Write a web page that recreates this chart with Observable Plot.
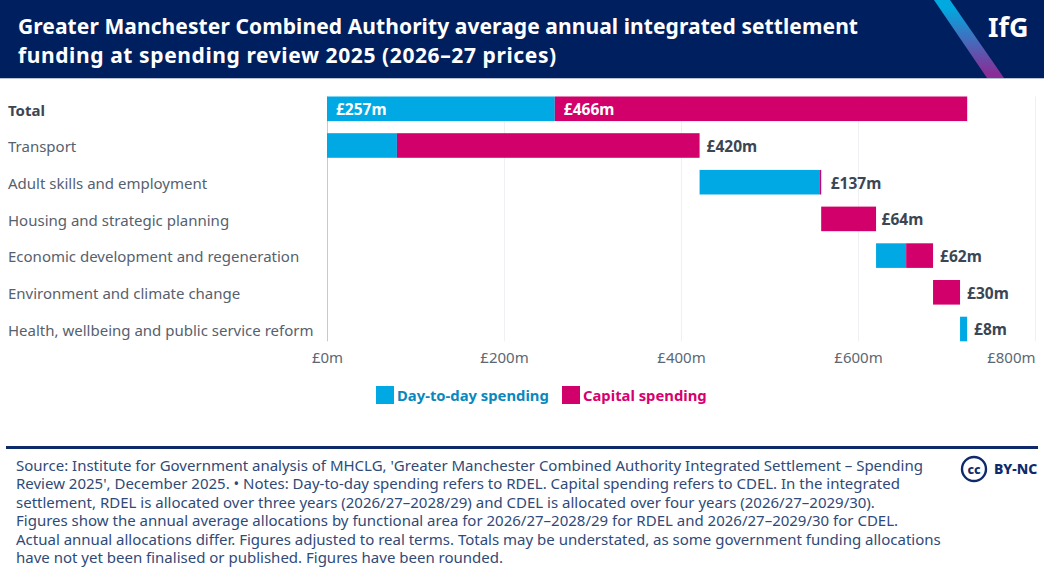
<!DOCTYPE html>
<html><head><meta charset="utf-8">
<script src="https://cdn.jsdelivr.net/npm/d3@7"></script>
<script src="https://cdn.jsdelivr.net/npm/@observablehq/plot@0.6"></script>
<style>
html,body{margin:0;padding:0;background:#fff;width:1044px;height:574px;overflow:hidden;font-family:"Noto Sans",sans-serif}
#head{position:relative;height:78px;background:#001f5f;border-bottom:1px solid #b9c2d4;box-sizing:content-box;overflow:hidden}
#head .t{position:absolute;left:18px;top:12px;color:#fff;font-weight:700;font-size:21px;line-height:29px;white-space:nowrap}
#head svg{position:absolute;left:0;top:0}
#head .l{position:absolute;left:988px;top:9px;color:#fff;font-weight:700;font-size:27px;line-height:36px}
#chart{position:absolute;left:0;top:78px}
#chart svg{display:block}
#legend{position:absolute;left:376px;top:386px;height:18px;font-size:14.8px;font-weight:700;line-height:19px;white-space:nowrap}
#legend i{position:absolute;top:0;width:18px;height:18px}
#legend span{position:absolute;top:0}
#rule{position:absolute;left:6px;top:446px;width:1032px;height:2.5px;background:#0f2a6b}
#cap{position:absolute;left:16px;top:456px;font-size:15px;line-height:18.4px;color:#2f4a78;white-space:nowrap}
#cc{position:absolute;left:959px;top:455px}
</style></head><body>
<div id="head">
<svg width="1044" height="78"><defs><linearGradient id="g" x1="0" y1="0" x2="0" y2="1"><stop offset="0.1" stop-color="#00a9e0"/><stop offset="0.95" stop-color="#8a2d96"/></linearGradient></defs><polygon points="934,0 950,0 1004,78 987,78" fill="url(#g)"/></svg>
<div class="t"><span style="letter-spacing:.08px">Greater Manchester Combined Authority average annual integrated settlement</span><br><span style="letter-spacing:.6px">funding at spending review 2025 (2026–27 prices)</span></div>
<div class="l">IfG</div>
</div>
<div id="chart"></div>
<div id="legend"><i style="left:0;background:#00a9e3"></i><span style="left:21px;color:#0a88bd">Day-to-day spending</span><i style="left:186px;background:#d1006b"></i><span style="left:207px;color:#d6006f">Capital spending</span></div>
<div id="rule"></div>
<div id="cap">Source: Institute for Government analysis of MHCLG, 'Greater Manchester Combined Authority Integrated Settlement – Spending<br>Review 2025', December 2025. • Notes: Day-to-day spending refers to RDEL. Capital spending refers to CDEL. In the integrated<br>settlement, RDEL is allocated over three years (2026/27–2028/29) and CDEL is allocated over four years (2026/27–2029/30).<br>Figures show the annual average allocations by functional area for 2026/27–2028/29 for RDEL and 2026/27–2029/30 for CDEL.<br>Actual annual allocations differ. Figures adjusted to real terms. Totals may be understated, as some government funding allocations<br>have not yet been finalised or published. Figures have been rounded.</div>
<svg id="cc" width="85" height="28"><circle cx="15" cy="14" r="12" fill="none" stroke="#0f2a6b" stroke-width="2.4"/><text x="15" y="18.5" text-anchor="middle" font-family="Noto Sans" font-weight="800" font-size="12.5" fill="#0f2a6b">cc</text><text x="35" y="19" font-family="Noto Sans" font-weight="800" font-size="14" fill="#0f2a6b">BY-NC</text></svg>
<script>
const categories = ["Total","Transport","Adult skills and employment","Housing and strategic planning","Economic development and regeneration","Environment and climate change","Health, wellbeing and public service reform"];
const dayToDay = [257.4,79,136,0,34,0,8];
const capital = [466,342,1.4,62,30.4,30.5,0];
const labels = ["","£420m","£137m","£64m","£62m","£30m","£8m"];
const totalLabels = ["£257m","£466m"];
const xTicks = [0,200,400,600,800];
const fmt = d => `£${d}m`;

const rows = [];
let cum = 0;
categories.forEach((c,i)=>{
  const start = i===0 ? 0 : cum;
  const mid = start + dayToDay[i], end = mid + capital[i];
  rows.push({c,start,mid,end,label:labels[i]});
  if(i>0) cum = end;
});
const dark = "#3b4654", axisC = "#5c6773";
const lab = {x:"end",y:"c",text:"label",textAnchor:"start",fontSize:15.5,fontWeight:700,fill:dark,dy:1};
const plot = Plot.plot({
  width:1044, height:300,
  marginLeft:327, marginRight:9, marginTop:18.5, marginBottom:36.7,
  style:{fontFamily:"Noto Sans",background:"transparent"},
  x:{domain:[0,800],axis:null},
  y:{domain:categories,axis:null,paddingInner:0.33,paddingOuter:0,round:false},
  marks:[
    Plot.ruleX(xTicks.slice(1),{x:d=>d,stroke:"#eef0f3",strokeWidth:1}),
    Plot.ruleX([0],{stroke:"#c6cad0",strokeWidth:1}),
    Plot.barX(rows.filter(r=>r.mid>r.start),{x1:"start",x2:"mid",y:"c",fill:"#00a9e3"}),
    Plot.barX(rows.filter(r=>r.end>r.mid),{x1:"mid",x2:"end",y:"c",fill:"#d1006b"}),
    Plot.text(categories.slice(0,1),{y:d=>d,frameAnchor:"left",dx:-319.5,dy:1.5,textAnchor:"start",fontSize:15,fontWeight:700,fill:dark}),
    Plot.text(categories.slice(1),{y:d=>d,frameAnchor:"left",dx:-319.5,dy:1.5,textAnchor:"start",fontSize:15,fill:"#56616d"}),
    Plot.text(rows.filter(r=>["£420m","£62m","£30m","£8m"].includes(r.label)),{...lab,dx:6.5}),
    Plot.text(rows.filter(r=>r.label==="£137m"),{...lab,dx:9}),
    Plot.text(rows.filter(r=>r.label==="£64m"),{...lab,dx:5}),
    Plot.text([{x:rows[0].start,t:totalLabels[0]},{x:rows[0].mid,t:totalLabels[1]}],{x:"x",y:()=>categories[0],text:"t",dx:8.5,dy:1,textAnchor:"start",fontSize:15.5,fontWeight:700,fill:"#fff"}),
    Plot.text(xTicks.slice(0,4),{x:d=>d,text:fmt,frameAnchor:"bottom",dy:21,fontSize:15,fill:axisC}),
    Plot.text(xTicks.slice(4),{x:d=>d,text:fmt,frameAnchor:"bottom",dy:21,textAnchor:"end",fontSize:15,fill:axisC})
  ]
});
document.getElementById("chart").append(plot);
</script>
</body></html>
